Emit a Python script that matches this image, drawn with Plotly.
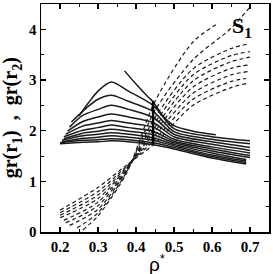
import plotly.graph_objects as go

# ---- solid curves (x, y) ----
solid_x = [
    [0.37, 0.40, 0.43, 0.445, 0.47, 0.50, 0.55, 0.61],
    [0.25, 0.275, 0.30, 0.335, 0.38, 0.445, 0.50, 0.60, 0.70],
    [0.23, 0.27, 0.30, 0.335, 0.38, 0.445, 0.50, 0.60, 0.70],
    [0.225, 0.26, 0.30, 0.335, 0.38, 0.445, 0.50, 0.60, 0.70],
    [0.22, 0.26, 0.30, 0.335, 0.38, 0.445, 0.50, 0.60, 0.70],
    [0.215, 0.26, 0.30, 0.335, 0.38, 0.445, 0.50, 0.60, 0.70],
    [0.21, 0.26, 0.30, 0.335, 0.38, 0.445, 0.50, 0.60, 0.70],
    [0.21, 0.26, 0.30, 0.335, 0.38, 0.445, 0.50, 0.60, 0.70],
    [0.205, 0.26, 0.30, 0.335, 0.38, 0.445, 0.50, 0.60, 0.69],
    [0.205, 0.26, 0.30, 0.335, 0.38, 0.445, 0.50, 0.60, 0.69],
    [0.20, 0.26, 0.30, 0.335, 0.38, 0.445, 0.50, 0.60, 0.69],
    [0.20, 0.26, 0.30, 0.335, 0.38, 0.445, 0.50, 0.60, 0.69],
]
solid_y = [
    [3.18, 2.92, 2.68, 2.57, 2.30, 2.10, 1.99, 1.92],
    [2.29, 2.55, 2.78, 2.96, 2.78, 2.50, 2.04, 1.88, 1.80],
    [2.17, 2.45, 2.62, 2.70, 2.58, 2.38, 1.98, 1.83, 1.74],
    [2.07, 2.30, 2.42, 2.50, 2.42, 2.26, 1.93, 1.78, 1.67],
    [1.99, 2.18, 2.27, 2.33, 2.27, 2.16, 1.88, 1.73, 1.61],
    [1.93, 2.09, 2.15, 2.20, 2.15, 2.07, 1.83, 1.68, 1.56],
    [1.88, 2.01, 2.06, 2.11, 2.06, 1.99, 1.79, 1.64, 1.51],
    [1.84, 1.95, 1.99, 2.03, 1.99, 1.92, 1.76, 1.60, 1.47],
    [1.81, 1.90, 1.93, 1.96, 1.93, 1.86, 1.73, 1.56, 1.43],
    [1.78, 1.85, 1.87, 1.90, 1.87, 1.81, 1.70, 1.52, 1.40],
    [1.76, 1.81, 1.82, 1.84, 1.82, 1.76, 1.67, 1.49, 1.37],
    [1.74, 1.77, 1.78, 1.80, 1.78, 1.72, 1.64, 1.46, 1.34],
]

# ---- dashed curves (x, y) ----
dash_x = [
    [0.20, 0.30, 0.375, 0.45, 0.55, 0.65, 0.69],
    [0.20, 0.30, 0.375, 0.45, 0.55, 0.65, 0.69],
    [0.20, 0.30, 0.375, 0.45, 0.55, 0.65, 0.70],
    [0.20, 0.30, 0.375, 0.45, 0.55, 0.65, 0.70],
    [0.21, 0.30, 0.375, 0.45, 0.55, 0.65, 0.70],
    [0.215, 0.30, 0.375, 0.45, 0.55, 0.65, 0.70],
    [0.225, 0.30, 0.375, 0.45, 0.55, 0.65, 0.70],
    [0.245, 0.30, 0.375, 0.45, 0.55, 0.65, 0.70],
    [0.26, 0.30, 0.375, 0.45, 0.55, 0.61],
]
dash_y = [
    [0.43, 0.88, 1.32, 1.75, 2.50, 2.85, 2.93],
    [0.38, 0.80, 1.30, 1.83, 2.62, 2.97, 3.03],
    [0.33, 0.73, 1.28, 1.91, 2.74, 3.10, 3.17],
    [0.28, 0.66, 1.26, 1.99, 2.86, 3.23, 3.30],
    [0.23, 0.59, 1.24, 2.07, 2.98, 3.36, 3.45],
    [0.18, 0.52, 1.22, 2.16, 3.10, 3.48, 3.56],
    [0.13, 0.45, 1.20, 2.26, 3.22, 3.62, 3.72],
    [0.08, 0.38, 1.18, 2.40, 3.40, 4.02, 4.44],
    [0.04, 0.32, 1.16, 2.58, 3.75, 4.09],
]

# vertical marker
vline_x = [0.445, 0.445]
vline_y = [1.73, 2.58]

x_ticks = [0.2, 0.3, 0.4, 0.5, 0.6, 0.7]
y_ticks = [0, 1, 2, 3, 4]

fig = go.Figure()
for xs, ys in zip(solid_x, solid_y):
    fig.add_trace(go.Scatter(x=xs, y=ys, mode="lines",
                             line=dict(color="#1a1a1a", width=1.5, shape="spline", smoothing=0.8),
                             showlegend=False, hoverinfo="skip"))
for xs, ys in zip(dash_x, dash_y):
    fig.add_trace(go.Scatter(x=xs, y=ys, mode="lines",
                             line=dict(color="#1a1a1a", width=1.2, dash="4px,3px", shape="spline", smoothing=0.8),
                             showlegend=False, hoverinfo="skip"))
fig.add_trace(go.Scatter(x=vline_x, y=vline_y, mode="lines",
                         line=dict(color="#000", width=2.5), showlegend=False, hoverinfo="skip"))

tickfont = dict(family="Liberation Serif", size=15, color="#000", weight=700)
axis_common = dict(showline=True, linecolor="#000", linewidth=1.5, mirror="ticks",
                   ticks="inside", ticklen=5, tickwidth=1.2, tickcolor="#000",
                   showgrid=False, zeroline=False, tickfont=tickfont)

fig.update_xaxes(range=[0.15, 0.75], tickvals=x_ticks, ticktext=[f"{v:.1f}" for v in x_ticks],
                 minor=dict(dtick=0.05, tick0=0.0, ticks="inside", ticklen=3, tickcolor="#000", tickwidth=1),
                 **axis_common)
fig.update_yaxes(range=[0, 4.5], tickvals=y_ticks, ticktext=[str(v) for v in y_ticks],
                 minor=dict(dtick=0.5, tick0=0.0, ticks="inside", ticklen=3, tickcolor="#000", tickwidth=1),
                 **axis_common)

fig.add_annotation(text="gr(r<sub>1</sub>)&nbsp;&nbsp;,&nbsp;&nbsp;gr(r<sub>2</sub>)",
                   xref="paper", yref="paper", x=-0.13, y=0.5, textangle=-90,
                   showarrow=False, xanchor="center", yanchor="middle",
                   font=dict(family="Liberation Serif", size=20, color="#000", weight=700))
fig.add_annotation(text="ρ<sup>*</sup>", xref="paper", yref="paper", x=0.51, y=-0.135,
                   showarrow=False, xanchor="center", yanchor="middle",
                   font=dict(family="Liberation Sans", size=19, color="#000"))
fig.add_annotation(text="S<sub>1</sub>", xref="x", yref="y", x=0.68, y=4.05,
                   showarrow=False, xanchor="center", yanchor="middle",
                   font=dict(family="Liberation Serif", size=22, color="#000", weight=700))

fig.update_layout(width=273, height=274, margin=dict(l=41, r=3, t=2, b=42),
                  paper_bgcolor="white", plot_bgcolor="white", hovermode=False)

fig.write_html("out.html", config={"displayModeBar": False, "staticPlot": True},
               post_script="document.body.style.margin='0';document.body.style.overflow='hidden';")
